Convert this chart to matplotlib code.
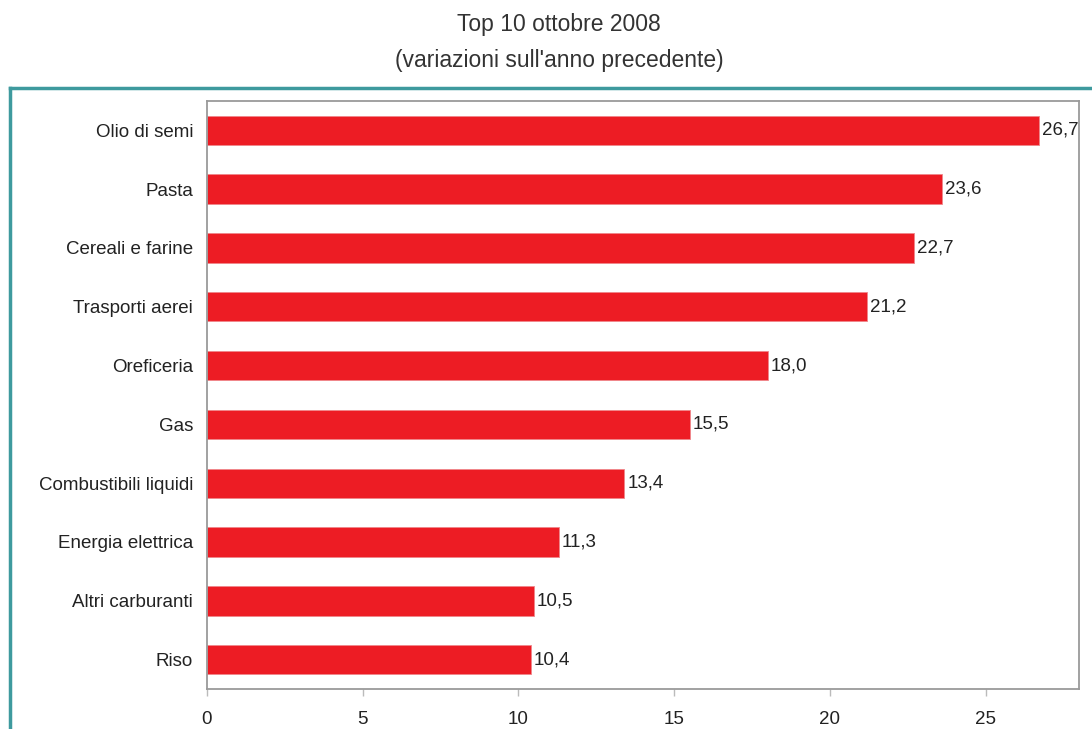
import matplotlib
matplotlib.use("Agg")
import matplotlib.pyplot as plt
from matplotlib.lines import Line2D

categories = ["Olio di semi", "Pasta", "Cereali e farine", "Trasporti aerei", "Oreficeria",
              "Gas", "Combustibili liquidi", "Energia elettrica", "Altri carburanti", "Riso"]
values = [26.7, 23.6, 22.7, 21.2, 18.0, 15.5, 13.4, 11.3, 10.5, 10.4]
xticks = [0, 5, 10, 15, 20, 25]

plt.rcParams['font.family'] = ['Liberation Sans', 'DejaVu Sans']
W, H = 1092, 729
fig = plt.figure(figsize=(W/100, H/100), dpi=100)
fig.patch.set_facecolor('white')

# axes placement in pixels
left, right, top, bottom = 207, 1079, 101, 689
ax = fig.add_axes([left/W, 1-bottom/H, (right-left)/W, (bottom-top)/H])

n = len(categories)
ypos = list(range(n))[::-1]
ax.barh(ypos, values, height=0.5, color='#ED1C24', edgecolor='#F0868A', linewidth=0.6)
for y, v in zip(ypos, values):
    ax.text(v + 0.1, y, f"{v:.1f}".replace('.', ','), va='center', ha='left',
            fontsize=13.5, color='#222222')

ax.set_xlim(0, 28)
ax.set_ylim(-0.5, n - 0.5)
ax.set_yticks(ypos)
ax.set_yticklabels(categories, fontsize=13.5, color='#222222')
ax.set_xticks(xticks)
ax.set_xticklabels([str(t) for t in xticks], fontsize=13.5, color='#222222')
ax.tick_params(axis='y', length=0, pad=10)
ax.tick_params(axis='x', length=5, width=1, color='#bbbbbb', pad=11, direction='out')
for s in ax.spines.values():
    s.set_color('#9a9a9a')
    s.set_linewidth(1.3)

# title
fig.text(559/W, 1-25/H, "Top 10 ottobre 2008", ha='center', va='center', fontsize=16.5, color='#333333')
fig.text(559/W, 1-60/H, "(variazioni sull'anno precedente)", ha='center', va='center', fontsize=16.5, color='#333333')

# teal frame (top and left)
teal = '#3E9A9E'
fig.add_artist(Line2D([10/W, 1.0], [1-88/H, 1-88/H], transform=fig.transFigure, color=teal, linewidth=2.5))
fig.add_artist(Line2D([10/W, 10/W], [1-88/H, 0], transform=fig.transFigure, color=teal, linewidth=2.5))

fig.savefig("out.png", dpi=100)
